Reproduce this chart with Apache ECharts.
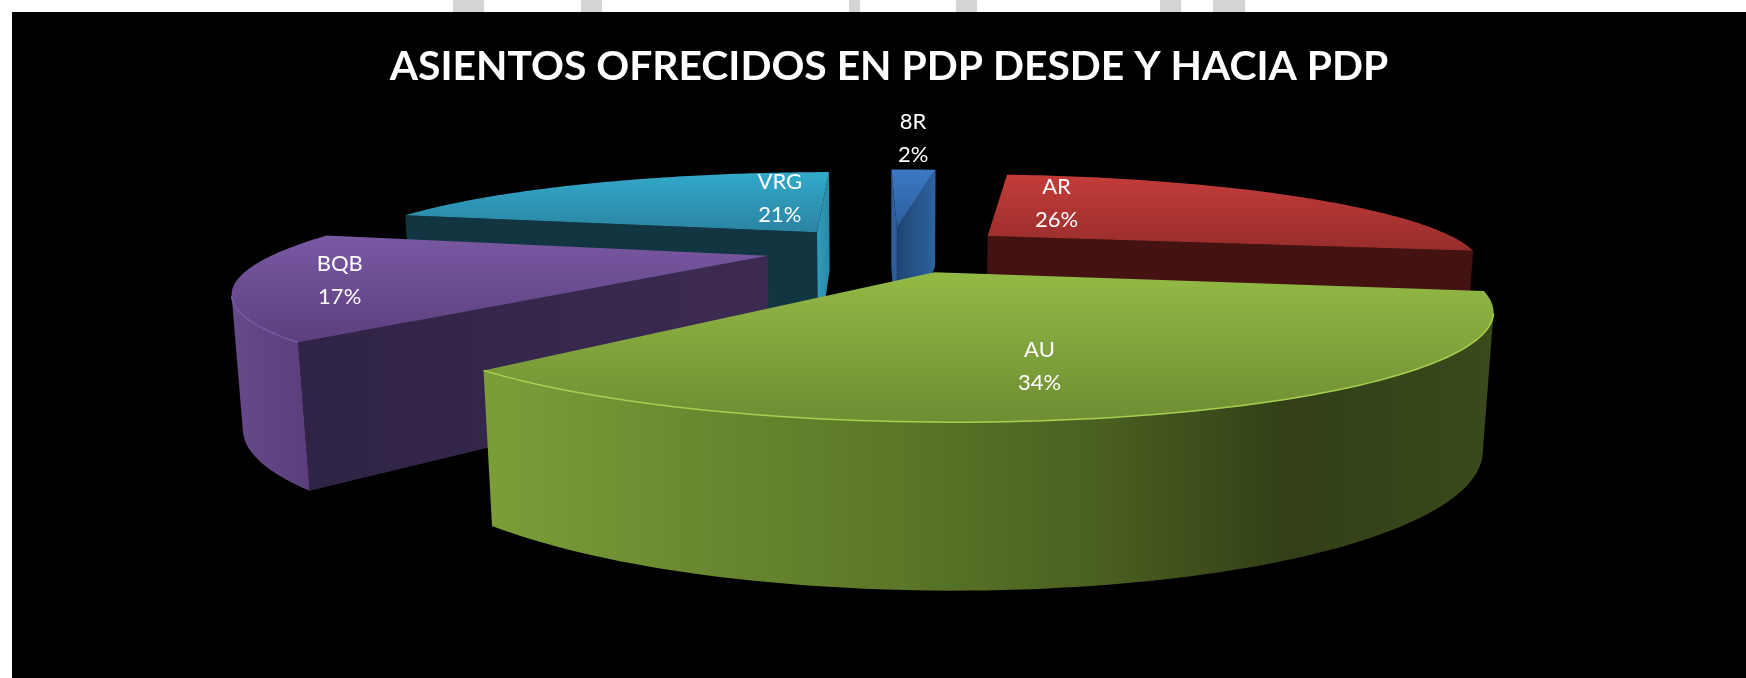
<!DOCTYPE html>
<html>
<head>
<meta charset="utf-8">
<title>Asientos ofrecidos en PDP</title>
<script src="https://cdn.jsdelivr.net/npm/echarts@6/dist/echarts.min.js"></script>
<style>
  html, body { margin: 0; padding: 0; background: #fff; }
  #chart { width: 1746px; height: 678px; }
</style>
</head>
<body>
<div id="chart"></div>
<script>
const categories = ["AR", "AU", "BQB", "VRG", "8R"];
const seriesValues = [26, 34, 17, 21, 2];
const titleText = "ASIENTOS OFRECIDOS EN PDP DESDE Y HACIA PDP";

// back to front, the pie is painted like a stack of cards
const paintOrder = ["VRG", "8R", "AR", "BQB", "AU"];

// faces: wall at the start angle, wall at the end angle
const sliceStyles = {
  AR: { top: ["#c43c39", "#962d2b"], faces: [["#431211"], ["#431211"]], side: ["#5c1b1a", "#962d2b"], rim: ["#c43c39"] },
  AU: {
    top: ["#93ba45", "#6f8d33"],
    faces: [["#3a4a1a"], ["#3a4a1a"]],
    side: ["#7c9e39", "#6b8a30", "#5c7828", "#4b6120", "#323f17", "#3a4a1b"],
    rim: ["#a8d050", "#8fb040", "#6f8d33"]
  },
  BQB: { top: ["#7958a2", "#5d3f80"], faces: [["#2f2445", "#3d2a52"], ["#33264a"]], side: ["#66498a", "#5a3f7c"], rim: ["#7958a2"] },
  VRG: { top: ["#32a9ca", "#2b84a2"], faces: [["#123641"], ["#2f9dbd", "#2a88a6"]], side: ["#2a88a6", "#2f9ab9"], rim: ["#32a9ca"] },
  "8R": { top: ["#3b78c4", "#2c5f9c"], faces: [["#2c5f9c"], ["#1f4472", "#2e64a0"]], side: ["#2c5f9c", "#2c5f9c"], rim: ["#3b78c4"] }
};

// projection of the tilted pie
const view = {
  cx: 891, cy: 249,
  rx: 485, ry: 87,
  persp: 0.30, drop: 0.015,
  depth: 122, depthPower: 0.74,
  explode: 0.26,
  firstAngle: 6.5
};

// small shift of each label from the middle of its slice
const labelShift = {
  AR: [-130, -6], AU: [-34, 21], BQB: [-109, 7], VRG: [109, -1], "8R": [5, -50]
};

// grey scraps above the black panel in the source screenshot
const topScraps = [[453, 31], [581, 21], [849, 11], [956, 21], [1160, 21], [1213, 32]];

const total = seriesValues.reduce((a, b) => a + b, 0);

function sliceAngles(index) {
  let start = view.firstAngle;
  for (let i = 0; i < index; i++) start += (seriesValues[i] / total) * 360;
  return [start, start + (seriesValues[index] / total) * 360];
}

// X to the right, Y to the viewer, z 0 on top and 1 on the bottom face
function project(X, Y, z) {
  const w = 1 / (1 - view.persp * Y + view.drop * z);
  const depth = view.depth * Math.pow(1 / (1 - view.persp * Y), view.depthPower) * z;
  return [view.cx + view.rx * X * w, view.cy + view.ry * Y * w + depth];
}

function rimPoint(apex, deg, r, z) {
  const a = (deg * Math.PI) / 180;
  return project(apex[0] + r * Math.sin(a), apex[1] - r * Math.cos(a), z);
}

function signedArea(pts) {
  let s = 0;
  for (let i = 0; i < pts.length; i++) {
    const p = pts[i], q = pts[(i + 1) % pts.length];
    s += p[0] * q[1] - q[0] * p[1];
  }
  return s / 2;
}

function gradient(x2, y2, colors) {
  if (colors.length === 1) return colors[0];
  return new echarts.graphic.LinearGradient(0, 0, x2, y2,
    colors.map((c, i) => ({ offset: i / (colors.length - 1), color: c })));
}

function renderSlice(params, api) {
  const name = categories[params.dataIndex];
  const style = sliceStyles[name];
  const value = api.value(0);
  const range = sliceAngles(params.dataIndex);
  const midDeg = (range[0] + range[1]) / 2;
  const mid = (midDeg * Math.PI) / 180;
  const apex = [view.explode * Math.sin(mid), -view.explode * Math.cos(mid)];
  const base = paintOrder.indexOf(name) * 10;
  const children = [];

  // radial faces, only those turned to the viewer
  const faces = [
    [rimPoint(apex, range[0], 0, 0), rimPoint(apex, range[0], 1, 0), rimPoint(apex, range[0], 1, 1), rimPoint(apex, range[0], 0, 1)],
    [rimPoint(apex, range[1], 1, 0), rimPoint(apex, range[1], 0, 0), rimPoint(apex, range[1], 0, 1), rimPoint(apex, range[1], 1, 1)]
  ];
  faces.forEach((points, i) => {
    if (signedArea(points) < 0) {
      children.push({ type: "polygon", z2: base, silent: true, shape: { points }, style: { fill: gradient(1, 0, style.faces[i]) } });
    }
  });

  // outer wall
  const steps = 90;
  const upper = [], lower = [];
  for (let i = 0; i < steps; i++) {
    const d0 = range[0] + ((range[1] - range[0]) * i) / steps;
    const d1 = range[0] + ((range[1] - range[0]) * (i + 1)) / steps;
    const quad = [rimPoint(apex, d0, 1, 0), rimPoint(apex, d1, 1, 0), rimPoint(apex, d1, 1, 1), rimPoint(apex, d0, 1, 1)];
    if (signedArea(quad) > 0) continue;
    if (!upper.length) { upper.push(quad[0]); lower.push(quad[3]); }
    upper.push(quad[1]);
    lower.push(quad[2]);
  }
  if (upper.length) {
    children.push({
      type: "polygon", z2: base + 1, silent: true,
      shape: { points: upper.concat(lower.slice().reverse()) },
      style: { fill: gradient(1, 0, style.side) }
    });
    children.push({
      type: "polyline", z2: base + 3, silent: true,
      shape: { points: upper },
      style: { fill: "none", stroke: gradient(-1, 0, style.rim), lineWidth: 1.5 }
    });
  }

  // top face
  const topPoints = [rimPoint(apex, range[0], 0, 0)];
  for (let i = 0; i <= steps; i++) {
    topPoints.push(rimPoint(apex, range[0] + ((range[1] - range[0]) * i) / steps, 1, 0));
  }
  children.push({
    type: "polygon", z2: base + 2, silent: true,
    shape: { points: topPoints },
    style: { fill: gradient(0, 1, style.top) }
  });

  // label
  const anchor = rimPoint(apex, midDeg, 0.62, 0);
  const shift = labelShift[name];
  children.push({
    type: "text", z2: 200, silent: true,
    style: {
      x: anchor[0] + shift[0], y: anchor[1] + shift[1],
      text: name + "\n" + value + "%",
      fill: "#fff", font: '22px Lato, "Noto Sans", sans-serif',
      lineHeight: 33, align: "center", verticalAlign: "middle"
    }
  });

  return { type: "group", children };
}

const chart = echarts.init(document.getElementById("chart"), null, { renderer: "canvas" });
chart.setOption({
  animation: false,
  backgroundColor: "#fff",
  title: {
    text: titleText,
    left: 884, top: 41, textAlign: "center",
    textStyle: { color: "#fff", fontFamily: "Lato", fontWeight: "bold", fontSize: 40.8 }
  },
  graphic: [
    { type: "rect", z: -1, silent: true, shape: { x: 12, y: 12, width: 1734, height: 666 }, style: { fill: "#000" } }
  ].concat(topScraps.map((s) => (
    { type: "rect", z: -1, silent: true, shape: { x: s[0], y: 0, width: s[1], height: 12 }, style: { fill: "#d4d4d4" } }
  ))),
  series: [
    {
      type: "custom",
      coordinateSystem: "none",
      renderItem: renderSlice,
      data: seriesValues.map((v, i) => ({ name: categories[i], value: [v] }))
    }
  ]
});
</script>
</body>
</html>
